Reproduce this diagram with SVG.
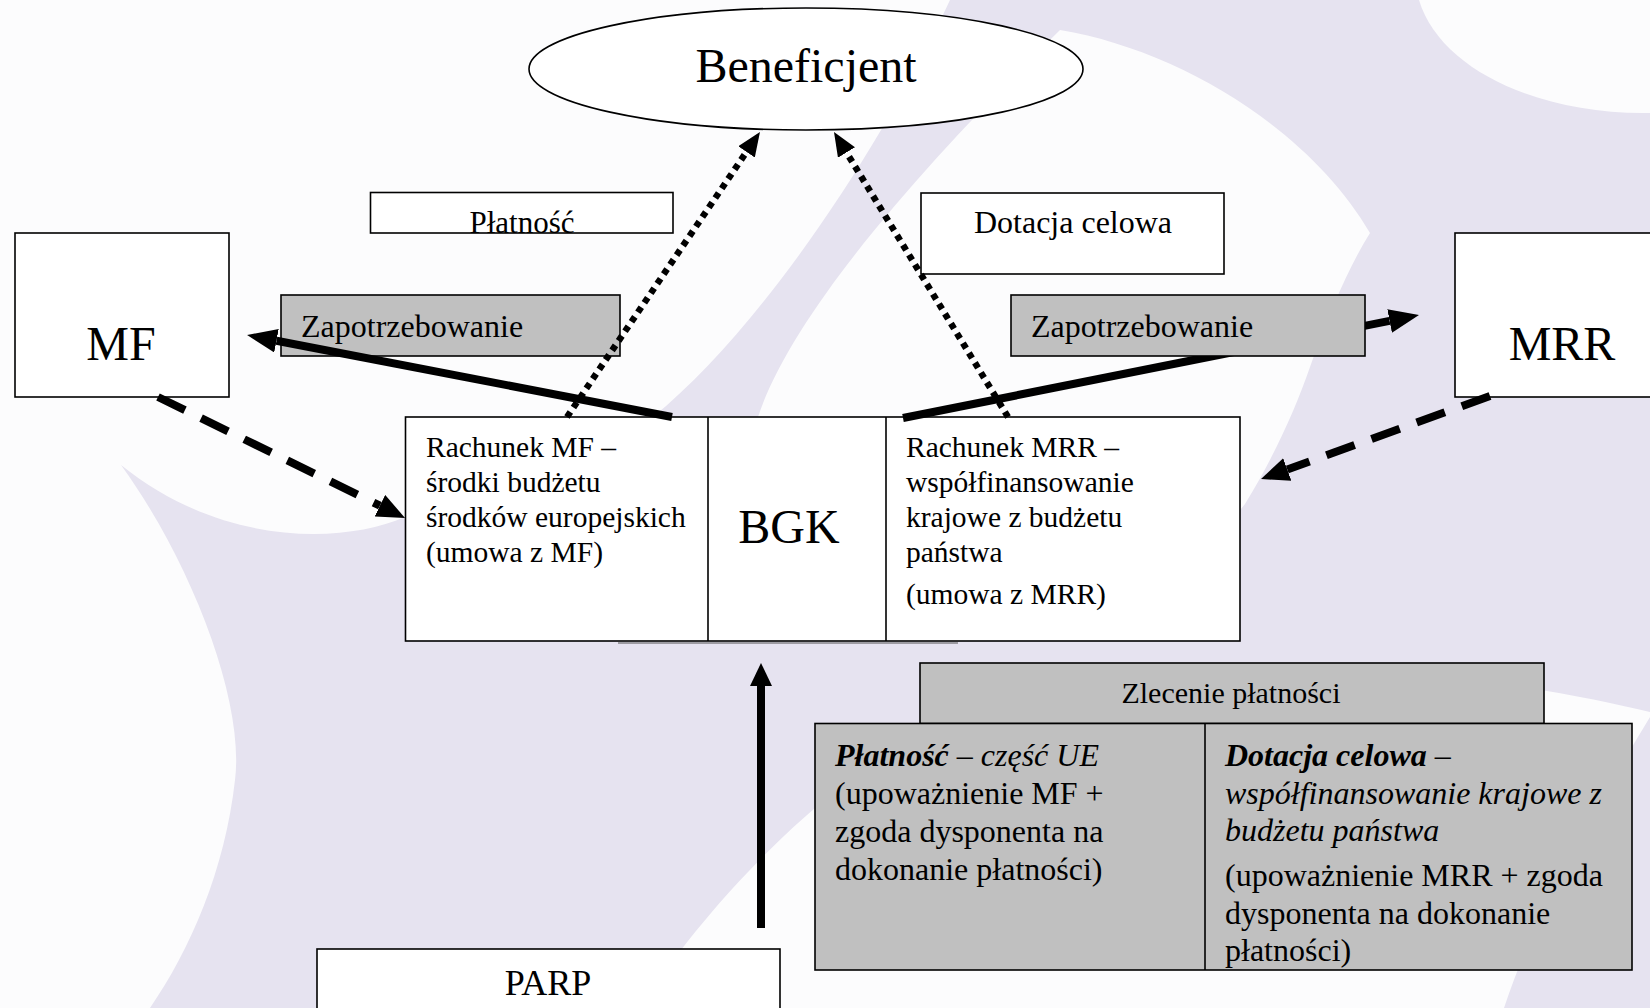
<svg xmlns="http://www.w3.org/2000/svg" width="1650" height="1008" viewBox="0 0 1650 1008">
<style>
text{font-family:"Liberation Serif","Times New Roman",serif;fill:#000}
.box{fill:#fff;stroke:#000;stroke-width:1.6}
.gray{fill:#c0c0c0;stroke:#000;stroke-width:1.6}
.thick{stroke:#000;stroke-width:8;fill:none}
.dot{stroke:#000;stroke-width:6.5;stroke-dasharray:6 5.5;fill:none}
.dash{stroke:#000;stroke-width:8;stroke-dasharray:30 18;fill:none}
.f48{font-size:48px}
.f32{font-size:32px}
.f29{font-size:29.5px}
.mid{text-anchor:middle}
.bi{font-weight:bold;font-style:italic}
.it{font-style:italic}
</style>
<defs>
<marker id="hBig" markerUnits="userSpaceOnUse" markerWidth="30" markerHeight="24" viewBox="0 0 30 24" refX="0" refY="12" orient="auto"><path d="M0,0 L30,12 L0,24 Z" fill="#000"/></marker>
<marker id="hDot" markerUnits="userSpaceOnUse" markerWidth="24" markerHeight="20" viewBox="0 0 24 20" refX="0" refY="10" orient="auto"><path d="M0,0 L24,10 L0,20 Z" fill="#000"/></marker>
<marker id="hDash" markerUnits="userSpaceOnUse" markerWidth="28" markerHeight="24" viewBox="0 0 28 24" refX="0" refY="12" orient="auto"><path d="M0,0 L28,12 L0,24 Z" fill="#000"/></marker>
<marker id="hUp" markerUnits="userSpaceOnUse" markerWidth="23" markerHeight="22" viewBox="0 0 23 22" refX="0" refY="11" orient="auto"><path d="M0,0 L23,11 L0,22 Z" fill="#000"/></marker>
</defs>
<g id="background">
<rect x="0" y="0" width="1650" height="1008" fill="#e6e3f0"/>
<path fill="#fcfcfd" d="M0,0 L950,0 C880,150 760,330 653,417 C560,480 470,510 405,517 C340,545 220,545 121,465 C190,560 245,700 235,780 C225,870 190,950 150,1008 L0,1008 Z"/>
<path fill="#fcfcfd" d="M1419,0 C1440,70 1540,115 1650,113 L1650,0 Z"/>
<path fill="#fcfcfd" d="M1060,30 C980,110 800,290 758,417 C735,490 745,580 820,615 C960,660 1170,600 1245,504 C1275,455 1295,410 1310,367 C1330,310 1350,265 1370,233 C1310,130 1180,50 1060,30 Z"/>
<path fill="#fcfcfd" d="M640,1008 C690,930 770,840 850,780 C940,705 1060,668 1200,665 C1400,662 1560,690 1650,712 L1650,717 C1600,800 1540,900 1504,1008 Z"/>
<line x1="618" y1="643" x2="958" y2="643" stroke="#555" stroke-width="1"/>
</g>
<g id="beneficjent">
<ellipse cx="806" cy="69" rx="277" ry="61" class="box" stroke-width="1.5"/>
<text x="806" y="82" class="f48 mid">Beneficjent</text>
</g>
<g id="platnosc">
<rect x="370.5" y="192.5" width="302.5" height="40.5" class="box"/>
<text x="522" y="233" class="mid" font-size="31">Płatność</text>
</g>
<g id="dotacja">
<rect x="921" y="193" width="303" height="81" class="box"/>
<text x="1073" y="233" class="f32 mid">Dotacja celowa</text>
</g>
<g id="mf">
<rect x="15" y="233" width="214" height="164" class="box"/>
<text x="121" y="360" class="f48 mid">MF</text>
</g>
<g id="mrr">
<rect x="1455" y="233" width="220" height="164" class="box"/>
<text x="1562" y="360" class="f48 mid">MRR</text>
</g>
<g id="zap-left">
<rect x="281" y="295" width="339" height="61" class="gray"/>
<text x="301" y="337" class="f32">Zapotrzebowanie</text>
</g>
<g id="bgk">
<rect x="405.5" y="417" width="834.5" height="224" class="box"/>
<line x1="708" y1="417" x2="708" y2="641" stroke="#000" stroke-width="1.6"/>
<line x1="886" y1="417" x2="886" y2="641" stroke="#000" stroke-width="1.6"/>
<text class="f29"><tspan x="426" y="457">Rachunek MF –</tspan><tspan x="426" y="492">środki budżetu</tspan><tspan x="426" y="527">środków europejskich</tspan><tspan x="426" y="562">(umowa z MF)</tspan></text>
<text x="789" y="543" class="f48 mid">BGK</text>
<text class="f29"><tspan x="906" y="457">Rachunek MRR –</tspan><tspan x="906" y="492">współfinansowanie</tspan><tspan x="906" y="527">krajowe z budżetu</tspan><tspan x="906" y="562">państwa</tspan><tspan x="906" y="604">(umowa z MRR)</tspan></text>
</g>
<g id="zlecenie">
<rect x="920" y="663" width="624" height="60.5" class="gray"/>
<text x="1231" y="703" class="mid" font-size="30">Zlecenie płatności</text>
<rect x="815" y="723.5" width="817" height="246.5" class="gray"/>
<line x1="1205" y1="723.5" x2="1205" y2="970" stroke="#000" stroke-width="1.6"/>
<text class="f32"><tspan x="835" y="766" class="bi">Płatność</tspan><tspan class="it"> – część UE</tspan><tspan x="835" y="804">(upoważnienie MF +</tspan><tspan x="835" y="842">zgoda dysponenta na</tspan><tspan x="835" y="880">dokonanie płatności)</tspan></text>
<text class="f32"><tspan x="1225" y="766" class="bi">Dotacja celowa</tspan><tspan> –</tspan><tspan x="1225" y="804" class="it">współfinansowanie krajowe z</tspan><tspan x="1225" y="841" class="it">budżetu państwa</tspan><tspan x="1225" y="886">(upoważnienie MRR + zgoda</tspan><tspan x="1225" y="924">dysponenta na dokonanie</tspan><tspan x="1225" y="961">płatności)</tspan></text>
</g>
<g id="parp">
<rect x="317" y="949" width="463" height="80" class="box"/>
<text x="548" y="995" class="mid" font-size="36">PARP</text>
</g>
<g id="connectors">
<line x1="903" y1="418" x2="1389.6" y2="320.9" class="thick" marker-end="url(#hBig)"/>
<line x1="672" y1="417" x2="276.5" y2="340.7" class="thick" marker-end="url(#hBig)"/>
<line x1="567" y1="417" x2="746.5" y2="151.9" class="dot" marker-end="url(#hDot)"/>
<line x1="1008" y1="417" x2="846.5" y2="152.5" class="dot" marker-end="url(#hDot)"/>
<line x1="158" y1="397" x2="379.9" y2="505.7" class="dash" marker-end="url(#hDash)"/>
<line x1="1490" y1="396" x2="1287.3" y2="469.5" class="dash" marker-end="url(#hDash)"/>
<line x1="761" y1="928" x2="761" y2="686" stroke="#000" stroke-width="8" marker-end="url(#hUp)"/>
</g>
<g id="zap-right">
<rect x="1011" y="295" width="354" height="61" class="gray"/>
<text x="1031" y="337" class="f32">Zapotrzebowanie</text>
</g>
</svg>
